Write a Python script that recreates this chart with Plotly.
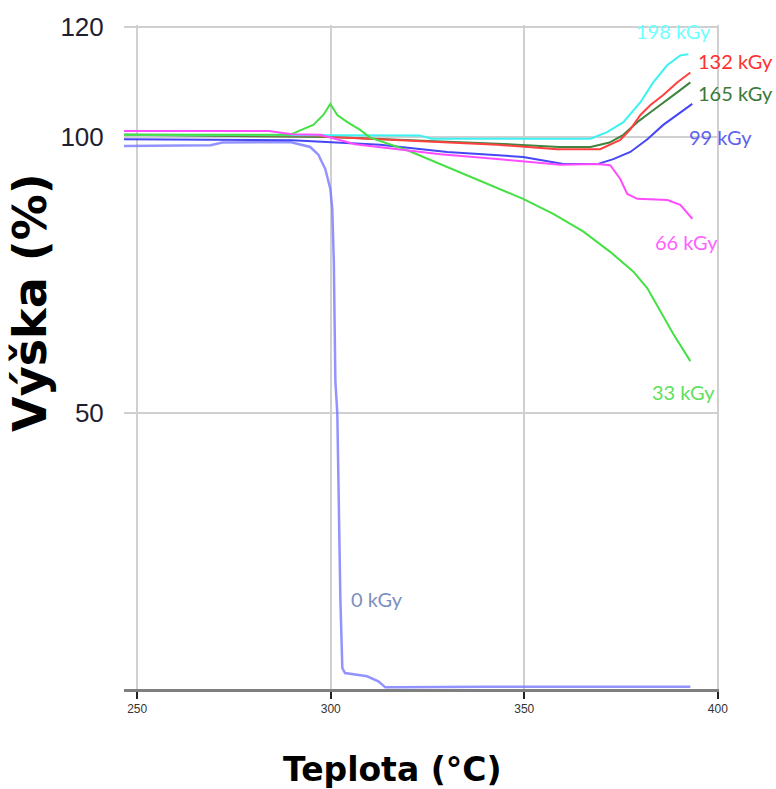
import plotly.graph_objects as go

# ---------------- data ----------------
t_0 = [246.6, 269.0, 272.0, 289.5, 294.7, 296.8, 298.6, 299.9, 300.4, 300.8, 301.2,
       301.7, 302.5, 303.0, 303.7, 305.8, 309.4, 312.3, 314.1, 317.2, 340.0, 392.9]
h_0 = [98.4, 98.5, 99.0, 99.1, 98.2, 96.8, 94.2, 90.6, 87.0, 77.4, 55.8,
       50.0, 16.1, 3.8, 2.9, 2.7, 2.3, 1.4, 0.3, 0.3, 0.4, 0.4]

t_33 = [246.6, 289.5, 292.1, 295.5, 298.1, 299.9, 301.7, 304.3, 307.6, 310.2, 319.8,
        334.2, 349.7, 357.5, 365.2, 372.2, 378.2, 381.8, 385.1, 388.5, 392.9]
h_33 = [100.4, 100.4, 101.2, 102.2, 104.0, 106.0, 104.0, 102.7, 101.3, 99.9, 97.6,
        93.3, 88.8, 86.1, 82.9, 79.2, 75.6, 72.6, 68.4, 64.3, 59.4]

t_66 = [246.6, 284.0, 290.0, 297.3, 306.3, 328.3, 343.0, 359.3, 368.9, 372.2, 374.8,
        376.6, 379.2, 387.0, 390.3, 393.4]
h_66 = [101.1, 101.1, 100.5, 100.4, 98.7, 96.9, 96.0, 95.0, 95.1, 94.9, 92.4,
        89.7, 88.8, 88.6, 87.7, 85.2]

t_99 = [246.6, 290.0, 312.8, 330.1, 349.7, 360.1, 368.9, 373.0, 377.4, 381.8, 385.9,
        390.3, 393.4]
h_99 = [99.6, 99.4, 98.6, 97.3, 96.4, 95.1, 95.1, 96.0, 97.3, 99.6, 102.2,
        104.5, 106.0]

t_132 = [246.6, 296.0, 300.0, 343.0, 358.5, 369.6, 374.8, 377.4, 380.0, 382.6, 385.9,
         389.5, 392.9]
h_132 = [100.4, 100.3, 100.0, 98.6, 97.8, 97.8, 99.5, 101.4, 104.0, 105.8, 107.6,
         109.9, 111.7]

t_165 = [246.6, 300.0, 343.0, 359.0, 367.1, 372.0, 375.6, 379.2, 382.6, 385.9, 389.5,
         392.9]
h_165 = [100.4, 100.0, 98.8, 98.2, 98.2, 99.0, 100.4, 102.7, 104.5, 106.3, 108.1,
         109.9]

t_198 = [246.6, 323.0, 326.0, 367.1, 371.4, 375.6, 380.0, 383.3, 386.9, 390.3, 392.4]
h_198 = [100.4, 100.3, 99.7, 99.7, 100.9, 102.7, 106.3, 109.9, 113.0, 114.8, 115.0]

labels = ["0 kGy", "33 kGy", "66 kGy", "99 kGy", "132 kGy", "165 kGy", "198 kGy"]
x_ticks = [250, 300, 350, 400]
y_ticks = [50, 100, 120]

# ---------------- styling ----------------
series = {
    "0 kGy": (t_0, h_0, "rgba(120,120,255,0.8)", 2.5),
    "99 kGy": (t_99, h_99, "#4646f5", 2),
    "165 kGy": (t_165, h_165, "#3f843f", 2),
    "132 kGy": (t_132, h_132, "#ff4040", 2),
    "198 kGy": (t_198, h_198, "#3cf2f2", 2),
    "33 kGy": (t_33, h_33, "#44e044", 2),
    "66 kGy": (t_66, h_66, "#ff4cff", 2),
}

# label positions in paper coordinates (plot area spans the axes)
label_pos = {
    "198 kGy": (0.924, 0.991, "#70ffff"),
    "132 kGy": (1.027, 0.946, "#ff3030"),
    "165 kGy": (1.027, 0.897, "#3a7a3a"),
    "99 kGy": (1.002, 0.832, "#6060ee"),
    "66 kGy": (0.945, 0.673, "#ff60ff"),
    "33 kGy": (0.941, 0.447, "#60e060"),
    "0 kGy": (0.425, 0.135, "#7c90c0"),
}

fig = go.Figure()
for name, (xs, ys, col, w) in series.items():
    fig.add_trace(go.Scatter(x=xs, y=ys, mode="lines", name=name,
                             line=dict(color=col, width=w), showlegend=False))

for name in labels:
    lx, ly, lc = label_pos[name]
    fig.add_annotation(xref="paper", yref="paper", x=lx, y=ly, text=name,
                       showarrow=False,
                       font=dict(family="Lato", size=20, color=lc),
                       xanchor="center", yanchor="middle")

fig.add_annotation(xref="paper", yref="paper", x=-0.158, y=0.583,
                   text="<b>Výška (%)</b>", textangle=-90, showarrow=False,
                   font=dict(family="DejaVu Sans", size=46, color="black"),
                   xanchor="center", yanchor="middle")
fig.add_annotation(xref="paper", yref="paper", x=0.452, y=-0.121,
                   text="<b>Teplota (°C)</b>", showarrow=False,
                   font=dict(family="DejaVu Sans", size=33, color="black"),
                   xanchor="center", yanchor="middle")

fig.update_layout(
    width=776, height=789,
    margin=dict(l=124, r=57, t=22, b=100),
    paper_bgcolor="white", plot_bgcolor="white",
    xaxis=dict(range=[246.6, 400.3], tickvals=x_ticks,
               showgrid=True, gridcolor="#d0d0d0", gridwidth=1.5,
               zeroline=False, showline=True, linecolor="#7f7f7f", linewidth=3,
               ticks="outside", ticklen=7, tickcolor="#222", tickwidth=1.5,
               tickfont=dict(family="Liberation Sans", size=12, color="#333")),
    yaxis=dict(range=[0, 120.3], tickvals=y_ticks,
               showgrid=True, gridcolor="#d0d0d0", gridwidth=1.5,
               zeroline=False, showline=False,
               ticks="outside", ticklen=14, tickcolor="rgba(0,0,0,0)",
               tickfont=dict(family="Liberation Sans", size=26, color="#1e1e30")),
)

fig.write_html("out.html")
